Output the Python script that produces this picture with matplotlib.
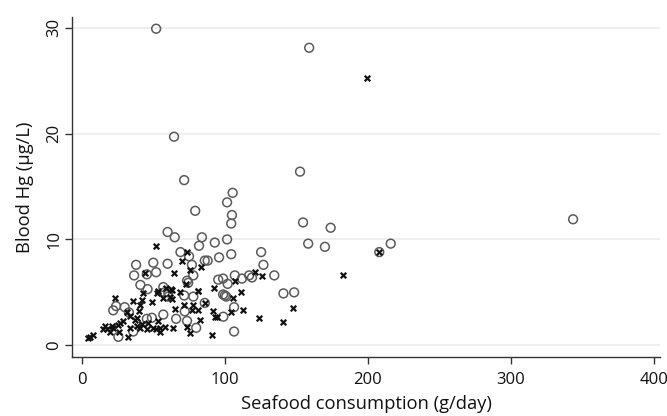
import matplotlib
matplotlib.use("Agg")
import matplotlib.pyplot as plt

# Group 1 (open circles): seafood consumption (g/day), blood Hg (ug/L)
circ_x = [52, 159, 64.5, 71.6, 152.6, 105.5, 101.6, 79.3, 105, 104.5, 154.7, 174, 158.3, 170, 208, 216, 343.5,
          84, 82, 93, 101.6, 104.5, 125.4, 127, 96, 75, 69, 86, 88, 77, 78, 73.6, 98.8, 102, 107, 112, 117, 119,
          134.6, 141, 148.5, 98.8, 101, 71.6, 60, 65, 60, 95.4, 38, 50, 36.6, 45.5, 52, 41, 46, 57, 58,
          24, 22, 30, 33, 45.5, 49, 57, 66, 73.6, 80, 25.6, 86, 72, 60.5, 36, 106.5, 99, 106.5, 60.4,
          74.4, 78, 100]
circ_y = [29.9, 28.1, 19.7, 15.6, 16.4, 14.4, 13.5, 12.7, 12.3, 11.5, 11.6, 11.1, 9.6, 9.3, 8.8, 9.6, 11.9,
          10.2, 9.4, 9.7, 10.0, 8.6, 8.8, 7.6, 8.3, 8.4, 8.8, 8.0, 8.0, 7.6, 6.6, 6.1, 6.3, 5.8, 6.6, 6.3, 6.6, 6.4,
          6.6, 4.9, 5.0, 4.8, 4.6, 4.7, 10.7, 10.2, 7.7, 6.2, 7.6, 7.8, 6.6, 6.7, 6.9, 5.7, 5.3, 5.5, 5.0,
          3.7, 3.3, 3.6, 3.1, 2.5, 2.6, 2.9, 2.5, 2.3, 1.65, 0.8, 4.0, 3.2, 5.0, 1.3, 3.6, 2.7, 1.3, 4.6,
          5.9, 4.6, 4.7]

# Group 2 (crosses)
cross_x = [199.6, 208, 182.7, 52, 44.3, 73.6, 70, 83.4, 75.7, 121, 126, 107, 73, 81, 111.5, 106, 64.5,
           23.3, 36, 42, 49, 53.5, 57, 59, 31.7, 38.7, 33.8, 26.8, 22, 17.7, 19.8, 26.3, 33.8, 40.8, 45.5, 50,
           54.7, 32.6, 5.8, 8, 38.7, 37.3, 42, 63, 68.7, 81.4, 63, 71.6, 77.3, 65.3, 83, 73.6, 75.7, 91, 92, 93,
           104.5, 113, 86, 124, 141, 148, 43, 52.7, 62.4, 61.7, 77.7, 41, 39.7, 15, 16.3, 21, 25.5, 29, 52, 55,
           4.4, 46, 53.4, 58, 64, 81, 94.4, 92.5]
cross_y = [25.2, 8.8, 6.6, 9.4, 6.8, 8.8, 8.0, 7.4, 7.1, 6.9, 6.5, 6.1, 5.8, 5.1, 5.0, 4.5, 6.8,
           4.5, 4.2, 4.3, 4.1, 5.1, 4.5, 5.4, 3.1, 2.6, 2.8, 2.1, 1.65, 1.5, 1.3, 1.3, 1.6, 1.6, 1.5, 1.6,
           1.6, 0.8, 0.8, 1.0, 1.8, 2.4, 2.0, 5.2, 5.0, 5.1, 4.4, 3.8, 3.3, 3.4, 2.4, 1.7, 1.2, 1.0, 3.2, 2.7,
           3.1, 3.3, 4.0, 2.6, 2.2, 3.5, 4.9, 4.9, 5.3, 4.6, 3.8, 3.8, 3.2, 1.5, 1.8, 1.8, 1.9, 2.3, 1.5, 1.3,
           0.7, 2.1, 2.3, 1.7, 1.6, 3.3, 2.7, 5.4]

x_ticks = [0, 100, 200, 300, 400]
y_ticks = [0, 10, 20, 30]

plt.rcParams['font.family'] = ['Open Sans', 'DejaVu Sans']

fig = plt.figure(figsize=(6.67, 4.16), dpi=100)
ax = fig.add_axes([0.108, 0.142, 0.882, 0.817])

ax.scatter(circ_x, circ_y, s=40, facecolors='none', edgecolors='#5a5a5a', linewidths=1.1, zorder=3)
ax.scatter(cross_x, cross_y, s=16, marker='x', color='#111111', linewidths=1.6, zorder=4)

ax.set_xlim(-6.8, 404.5)
ax.set_ylim(-1.1, 31.0)
ax.set_xticks(x_ticks)
ax.set_yticks(y_ticks)
for yt in y_ticks:
    ax.axhline(yt, color='#ececec', lw=1.2, zorder=0)

for s in ['top', 'right']:
    ax.spines[s].set_visible(False)
for s in ['left', 'bottom']:
    ax.spines[s].set_color('#333333')
    ax.spines[s].set_linewidth(1.0)

ax.tick_params(axis='both', colors='#333333', labelcolor='#111111', labelsize=12, length=5, width=1.0)
ax.tick_params(axis='x', pad=6)
ax.tick_params(axis='y', pad=2)
for lab in ax.get_yticklabels():
    lab.set_rotation(90)
    lab.set_va('center')

ax.set_xlabel('Seafood consumption (g/day)', fontsize=13.2, color='#111111', labelpad=5)
ax.set_ylabel('Blood Hg (μg/L)', fontsize=13.2, color='#111111', labelpad=9)

fig.savefig('out.png', dpi=100)
